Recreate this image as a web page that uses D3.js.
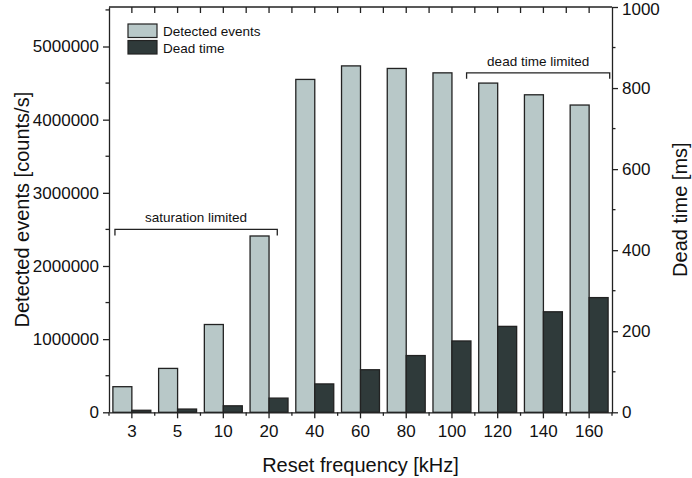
<!DOCTYPE html>
<html>
<head>
<meta charset="utf-8">
<style>
  body { margin: 0; background: #fff; }
  svg { font-family: "Liberation Sans", Arial, sans-serif; }
</style>
</head>
<body>
<svg id="chart" width="692" height="478"></svg>
<script src="https://d3js.org/d3.v7.min.js"></script>
<script>
// values
const frequencies = ["3", "5", "10", "20", "40", "60", "80", "100", "120", "140", "160"];
const detectedEvents = [350000, 600000, 1200000, 2410000, 4550000, 4735000, 4700000, 4640000, 4500000, 4340000, 4200000];
const deadTime = [5, 8, 16, 35, 70, 105, 140, 176, 212, 248, 283];
const leftTicks = [0, 1000000, 2000000, 3000000, 4000000, 5000000];
const rightTicks = [0, 200, 400, 600, 800, 1000];

const svg = d3.select("#chart");
const m = {left: 109, right: 612, top: 7, bottom: 412.3};
const ink = "#222";

const x = d3.scaleBand().domain(frequencies).range([m.left, m.right]).padding(0);
const sub = d3.scaleBand().domain(["det", "dead"]).range([0, x.bandwidth()]).paddingInner(0).paddingOuter(0.205);
const yL = d3.scaleLinear().domain([0, 5540000]).range([m.bottom, m.top]);
const yR = d3.scaleLinear().domain([0, 1000]).range([m.bottom, m.top]);

// bars
const rows = frequencies.map((f, i) => ({f, det: detectedEvents[i], dead: deadTime[i]}));
svg.append("g").selectAll("rect").data(rows).join("rect")
    .attr("x", d => x(d.f) + sub("det"))
    .attr("y", d => yL(d.det))
    .attr("width", sub.bandwidth())
    .attr("height", d => m.bottom - yL(d.det))
    .attr("fill", "#b8c8c8").attr("stroke", ink).attr("stroke-width", 1.3);
svg.append("g").selectAll("rect").data(rows).join("rect")
    .attr("x", d => x(d.f) + sub("dead"))
    .attr("y", d => yR(d.dead))
    .attr("width", sub.bandwidth())
    .attr("height", d => m.bottom - yR(d.dead))
    .attr("fill", "#2f3a3a").attr("stroke", ink).attr("stroke-width", 1.3);

// axes
function style(g) {
  g.selectAll("path,line").attr("stroke", ink).attr("stroke-width", 1.3);
  g.selectAll("text").attr("fill", "#111").attr("font-size", 17);
}
const minorL = d3.range(500000, 5540000, 1000000);
const minorR = d3.range(100, 1000, 200);
const bounds = d3.range(0, frequencies.length + 1).map(i => m.left + i * x.step());

svg.append("g").attr("transform", `translate(${m.left},0)`)
  .call(d3.axisLeft(yL).tickValues(leftTicks).tickFormat(d3.format("d")).tickSize(6).tickSizeOuter(0).tickPadding(4))
  .call(style);
svg.append("g").selectAll("line").data(minorL).join("line")
  .attr("x1", m.left - 3.5).attr("x2", m.left).attr("y1", d => yL(d)).attr("y2", d => yL(d))
  .attr("stroke", ink).attr("stroke-width", 1.3);

svg.append("g").attr("transform", `translate(${m.right},0)`)
  .call(d3.axisRight(yR).tickValues(rightTicks).tickFormat(d3.format("d")).tickSize(6).tickSizeOuter(0).tickPadding(4))
  .call(style)
  .call(g => g.selectAll("text").filter(d => d === 1000).attr("dy", "0.42em"));
svg.append("g").selectAll("line").data(minorR).join("line")
  .attr("x1", m.right).attr("x2", m.right + 3.5).attr("y1", d => yR(d)).attr("y2", d => yR(d))
  .attr("stroke", ink).attr("stroke-width", 1.3);

svg.append("g").attr("transform", `translate(0,${m.bottom})`)
  .call(d3.axisBottom(x).tickSize(6).tickSizeOuter(0).tickPadding(7))
  .call(style);
svg.append("g").selectAll("line").data(bounds).join("line")
  .attr("x1", d => d).attr("x2", d => d).attr("y1", m.bottom).attr("y2", m.bottom + 3.5)
  .attr("stroke", ink).attr("stroke-width", 1.3);

// top frame with inward ticks
svg.append("line").attr("x1", m.left).attr("x2", m.right).attr("y1", m.top).attr("y2", m.top)
  .attr("stroke", ink).attr("stroke-width", 1.3);
const topTicks = frequencies.map(f => x(f) + x.bandwidth() / 2).concat(bounds.slice(1, -1));
svg.append("g").selectAll("line").data(topTicks).join("line")
  .attr("x1", d => d).attr("x2", d => d).attr("y1", m.top).attr("y2", m.top + 6)
  .attr("stroke", ink).attr("stroke-width", 1.3);

// axis titles
svg.append("text").attr("transform", `translate(29,${(m.top + m.bottom) / 2}) rotate(-90)`)
  .attr("text-anchor", "middle").attr("font-size", 20).attr("fill", "#111")
  .text("Detected events [counts/s]");
svg.append("text").attr("transform", `translate(687,${(m.top + m.bottom) / 2}) rotate(-90)`)
  .attr("text-anchor", "middle").attr("font-size", 20).attr("fill", "#111")
  .text("Dead time [ms]");
svg.append("text").attr("x", (m.left + m.right) / 2).attr("y", 472)
  .attr("text-anchor", "middle").attr("font-size", 20).attr("fill", "#111")
  .text("Reset frequency [kHz]");

// brackets
function bracket(x1, x2, y, label) {
  svg.append("path")
    .attr("d", `M${x1},${y + 6}V${y}H${x2}V${y + 6}`)
    .attr("fill", "none").attr("stroke", ink).attr("stroke-width", 1.3);
  svg.append("text").attr("x", (x1 + x2) / 2).attr("y", y - 7)
    .attr("text-anchor", "middle").attr("font-size", 13.5).attr("fill", "#111").text(label);
}
bracket(x("3") + 0.13 * x.bandwidth(), x("20") + 0.68 * x.bandwidth(), yL(2500000), "saturation limited");
bracket(x("100") + 0.82 * x.bandwidth(), x("160") + 0.95 * x.bandwidth(), yL(4640000), "dead time limited");

// legend
const legend = [["Detected events", "#b8c8c8"], ["Dead time", "#2f3a3a"]];
const lg = svg.append("g").attr("transform", "translate(128,24)");
lg.selectAll("rect").data(legend).join("rect")
  .attr("x", 0).attr("y", (d, i) => i * 16.5).attr("width", 29).attr("height", 13.5)
  .attr("fill", d => d[1]).attr("stroke", ink).attr("stroke-width", 1.2);
lg.selectAll("text").data(legend).join("text")
  .attr("x", 35).attr("y", (d, i) => i * 16.5 + 12).attr("font-size", 13.5).attr("fill", "#111")
  .text(d => d[0]);
</script>
</body>
</html>
